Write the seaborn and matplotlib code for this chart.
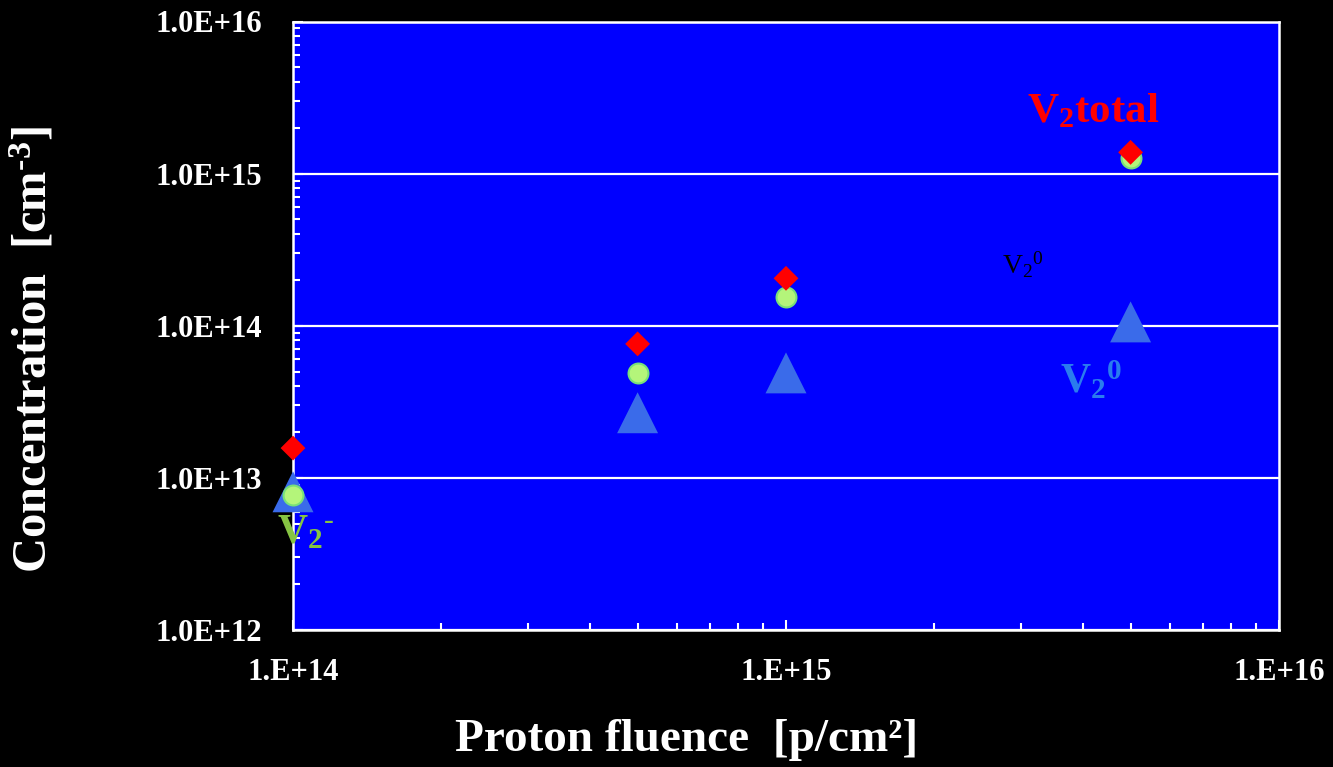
import numpy as np
import pandas as pd
import matplotlib
matplotlib.use("Agg")
import matplotlib.pyplot as plt
import matplotlib.ticker as mticker
import seaborn as sns

# ---- data ----
fluence = [1.0e14, 5.0e14, 1.0e15, 5.0e15]
v2_total = [1.57e13, 7.6e13, 2.05e14, 1.38e15]
v2_minus = [7.7e12, 4.9e13, 1.54e14, 1.26e15]
v2_zero = [8.1e12, 2.68e13, 4.9e13, 1.06e14]

x_ticks = [1e14, 1e15, 1e16]
x_tick_labels = ["1.E+14", "1.E+15", "1.E+16"]
y_ticks = [1e12, 1e13, 1e14, 1e15, 1e16]
y_tick_labels = ["1.0E+12", "1.0E+13", "1.0E+14", "1.0E+15", "1.0E+16"]

plt.rcParams['font.family'] = ['Liberation Serif', 'DejaVu Serif']
plt.rcParams['mathtext.fontset'] = 'custom'
plt.rcParams['mathtext.rm'] = 'Liberation Serif'
plt.rcParams['mathtext.bf'] = 'Liberation Serif:bold'
plt.rcParams['mathtext.it'] = 'Liberation Serif:italic'

fig = plt.figure(figsize=(13.33, 7.67), dpi=100, facecolor='black')
ax = fig.add_axes([293/1333, 1 - 630/767, (1279-293)/1333, (630-21.5)/767])
ax.set_facecolor('#0000FF')

df = pd.DataFrame({"fluence": fluence, "total": v2_total,
                   "minus": v2_minus, "zero": v2_zero})

sns.scatterplot(data=df, x="fluence", y="zero", marker='^', s=870,
                color='#3A6BEA', edgecolor='none', ax=ax, zorder=3,
                legend=False, clip_on=False)
sns.scatterplot(data=df, x="fluence", y="minus", marker='o', s=205,
                color='#B4F57A', edgecolor='#78E078', linewidth=1.5,
                ax=ax, zorder=4, legend=False, clip_on=False)
sns.scatterplot(data=df, x="fluence", y="total", marker='D', s=160,
                color='#FF0000', edgecolor='none', ax=ax, zorder=5,
                legend=False, clip_on=False)

ax.set_xscale('log')
ax.set_yscale('log')
ax.set_xlim(1e14, 1e16)
ax.set_ylim(1e12, 1e16)

ax.set_xticks(x_ticks)
ax.set_xticklabels(x_tick_labels)
ax.set_yticks(y_ticks)
ax.set_yticklabels(y_tick_labels)
ax.xaxis.set_minor_locator(mticker.LogLocator(base=10, subs=np.arange(2, 10)))
ax.yaxis.set_minor_locator(mticker.LogLocator(base=10, subs=np.arange(2, 10)))
ax.xaxis.set_minor_formatter(mticker.NullFormatter())
ax.yaxis.set_minor_formatter(mticker.NullFormatter())

for lab in ax.get_xticklabels() + ax.get_yticklabels():
    lab.set_fontweight('bold')
    lab.set_fontsize(22)
    lab.set_color('white')

ax.tick_params(axis='both', which='major', direction='in', length=7, width=1.5,
               color='white', top=False, right=False)
ax.tick_params(axis='both', which='minor', direction='in', length=5, width=1.5,
               color='white', top=False, right=False)
ax.tick_params(axis='x', which='major', pad=20)
ax.tick_params(axis='y', which='major', pad=22)

for sp in ax.spines.values():
    sp.set_color('white')
    sp.set_linewidth(1.8)

ax.grid(False)
ax.yaxis.grid(True, which='major', color='white', linewidth=1.6)
ax.set_axisbelow(True)

ax.set_xlabel("")
ax.set_ylabel("")

fig.text(687/1333, 1 - 740/767, "Proton fluence  [p/cm²]", ha='center', va='center',
         fontsize=34, fontweight='bold', color='white')
fig.text(33/1333, 1 - 350/767, r"Concentration  [cm$^{\mathbf{\text{-}3}}$]", ha='center',
         va='center', rotation=90, fontsize=35, fontweight='bold', color='white')

ax.text(0.744, 0.834, r"V$_{\mathbf{2}}$total", transform=ax.transAxes,
        ha='left', va='baseline', fontsize=31, fontweight='bold', color='#FF0000')
ax.text(0.719, 0.586, r"V$_{\mathrm{2}}{}^{\mathrm{0}}$", transform=ax.transAxes,
        ha='left', va='baseline', fontsize=20, color='black')
ax.text(0.778, 0.389, r"V$_{\mathbf{2}}{}^{\mathbf{0}}$", transform=ax.transAxes,
        ha='left', va='baseline', fontsize=30, fontweight='bold', color='#2A7CEE')
ax.text(-0.016, 0.143, r"V$_{\mathbf{2}}{}^{\mathbf{\text{-}}}$", transform=ax.transAxes,
        ha='left', va='baseline', fontsize=30, fontweight='bold', color='#86C443',
        zorder=6, clip_on=False)

fig.savefig("out.png", dpi=100, facecolor='black')
